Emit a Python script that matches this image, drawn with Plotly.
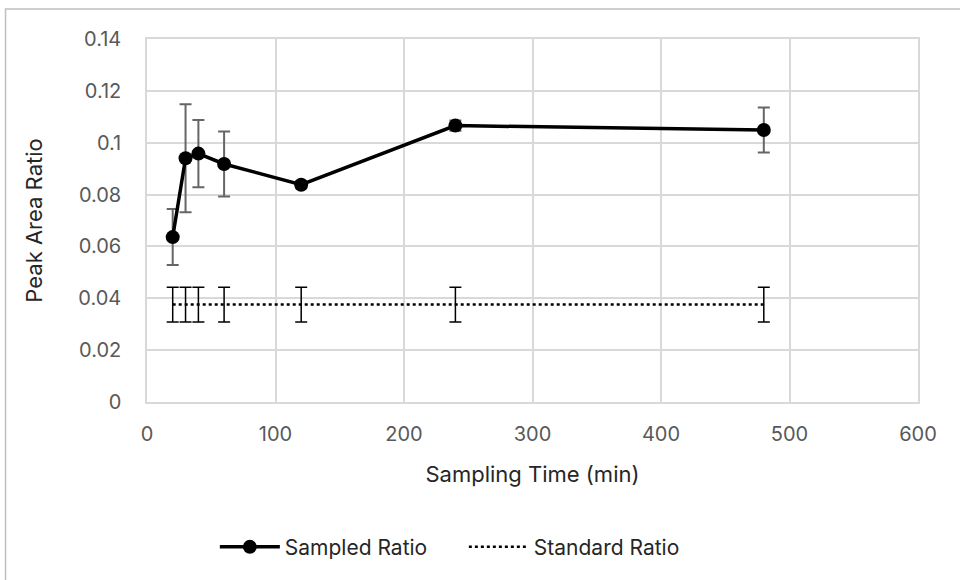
import plotly.graph_objects as go

# Sampling times (min)
sampling_time = [20, 30, 40, 60, 120, 240, 480]

# Sampled peak area ratio and its error
sampled_ratio = [0.0636, 0.094, 0.0958, 0.0918, 0.0838, 0.1066, 0.1049]
sampled_err = [0.0108, 0.0208, 0.0130, 0.0125, 0.0014, 0.0020, 0.0087]

# Standard peak area ratio and its error
standard_ratio = [0.0376] * 7
standard_err = [0.0067] * 7

font_family = "Inter, Open Sans, sans-serif"

fig = go.Figure()

fig.add_trace(go.Scatter(
    x=sampling_time, y=standard_ratio, name="Standard Ratio", mode="lines",
    line=dict(color="black", width=2.5, dash="dot"),
    error_y=dict(type="data", array=standard_err, visible=True,
                 color="black", thickness=1.5, width=6),
))

fig.add_trace(go.Scatter(
    x=sampling_time, y=sampled_ratio, name="Sampled Ratio", mode="lines+markers",
    line=dict(color="black", width=3.5),
    marker=dict(color="black", size=14),
    error_y=dict(type="data", array=sampled_err, visible=True,
                 color="#666666", thickness=2, width=6),
))

grid = "#d9d9d9"
fig.update_xaxes(
    range=[0, 600], dtick=100, showgrid=True, gridcolor=grid, gridwidth=1.5,
    showline=True, linecolor=grid, linewidth=1.5, mirror=True, zeroline=False,
    ticks="", ticklabelstandoff=13,
    tickfont=dict(size=20, color="#595959", family=font_family),
    title=dict(text="Sampling Time (min)", standoff=22,
               font=dict(size=22, color="#262626", family=font_family)),
)
fig.update_yaxes(
    range=[0, 0.14], dtick=0.02, showgrid=True, gridcolor=grid, gridwidth=1.5,
    showline=True, linecolor=grid, linewidth=1.5, mirror=True, zeroline=False,
    ticks="", tickformat="~g", ticklabelstandoff=20,
    tickfont=dict(size=20, color="#595959", family=font_family),
    title=dict(text="Peak Area Ratio", standoff=30,
               font=dict(size=22, color="#262626", family=font_family)),
)

fig.update_layout(
    width=960, height=580,
    margin=dict(l=147, r=42, t=39, b=178),
    plot_bgcolor="white", paper_bgcolor="white",
    font=dict(family=font_family, color="#262626"),
    legend=dict(orientation="h", x=0.088, xanchor="left", y=-0.40, yanchor="middle",
                font=dict(size=21, color="#262626", family=font_family),
                itemwidth=60, entrywidth=174, entrywidthmode="pixels",
                traceorder="reversed"),
    shapes=[dict(type="rect", xref="paper", yref="paper",
                 x0=-0.1835, x1=1.1, y0=-0.6, y1=1.0826,
                 line=dict(color="#bfbfbf", width=1.5), fillcolor="rgba(0,0,0,0)",
                 layer="below")],
)

fig.write_html("out.html")
